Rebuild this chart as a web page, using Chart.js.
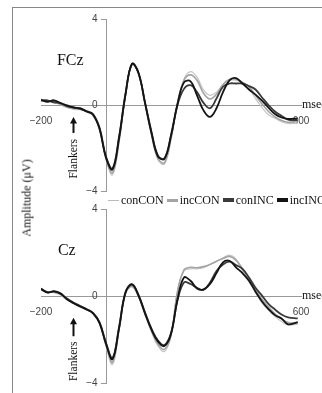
<!DOCTYPE html>
<html>
<head>
<meta charset="utf-8">
<title>FCz / Cz</title>
<script src="https://cdn.jsdelivr.net/npm/chart.js@4.4.1/dist/chart.umd.min.js"></script>
<style>
html,body{margin:0;padding:0;background:#fff;}
body{position:relative;width:322px;height:393px;overflow:hidden;font-family:"Liberation Serif","Times New Roman",serif;color:#111;}
#frame{position:absolute;left:12px;top:7px;width:330px;height:400px;border-left:1px solid #888;border-top:1px solid #888;}
.panel{position:absolute;left:0;width:322px;}
#fczBox{top:0;height:200px;}
#czBox{top:190px;height:203px;}
#ytitle{position:absolute;left:27px;top:198px;transform:translate(-50%,-50%) rotate(-90deg);font-size:12px;white-space:nowrap;color:#111;}
#legend{position:absolute;left:108px;top:192px;height:16px;display:flex;align-items:center;font-size:12px;white-space:nowrap;}
#legend .item{display:flex;align-items:center;margin-right:3px;}
#legend .mark{width:11px;margin-right:2px;}
</style>
</head>
<body>
<div id="frame"></div>
<div class="panel" id="fczBox"><canvas id="fcz"></canvas></div>
<div class="panel" id="czBox"><canvas id="cz"></canvas></div>
<div id="ytitle">Amplitude (μV)</div>
<div id="legend"></div>
<script>
// time axis (msec)
const times = [-200,-180,-160,-140,-120,-100,-80,-60,-40,-20,
  0,20,40,60,80,100,120,140,160,180,
  200,220,240,260,280,300,320,340,360,380,
  400,420,440,460,480,500,520,540,560,590];

const seriesNames = ['conCON','incCON','conINC','incINC'];

// FCz (µV)
const fczConCON = [0.18,0.2,0.1,0.05,-0.08,-0.2,-0.22,-0.32,-0.45,-1.1,
  -2.5,-3.25,-1.75,0.45,1.9,1.45,0.05,-1.4,-2.55,-2.75,
  -1.6,0.1,1.2,1.55,1.3,0.7,0.45,0.6,0.95,1.15,
  1.15,1.05,0.75,0.3,-0.12,-0.45,-0.62,-0.78,-0.86,-0.85];
const fczIncCON = [0.22,0.18,0.15,0.02,-0.1,-0.15,-0.2,-0.3,-0.48,-1.12,
  -2.5,-3.15,-1.7,0.48,1.92,1.48,0.08,-1.38,-2.5,-2.68,
  -1.55,0.08,1.15,1.4,1.15,0.55,0.28,0.5,0.95,1.2,
  1.2,1.05,0.85,0.45,0.05,-0.3,-0.55,-0.72,-0.8,-0.75];
const fczConINC = [0.2,0.22,0.12,0.1,-0.05,-0.1,-0.18,-0.28,-0.42,-1.05,
  -2.4,-2.95,-1.5,0.5,1.9,1.48,0.12,-1.25,-2.35,-2.48,
  -1.45,0.0,0.75,0.92,0.6,0.1,-0.15,0.3,0.85,1.0,
  1.0,1.0,0.88,0.72,0.35,0.0,-0.3,-0.5,-0.68,-0.7];
const fczIncINC = [0.25,0.15,0.22,0.08,-0.02,-0.12,-0.15,-0.3,-0.45,-1.1,
  -2.45,-3.0,-1.55,0.5,1.92,1.5,0.1,-1.3,-2.4,-2.5,
  -1.4,0.05,1.05,1.1,0.45,-0.25,-0.55,-0.15,0.6,1.15,
  1.25,1.0,0.72,0.48,0.2,-0.12,-0.42,-0.58,-0.65,-0.62];

// Cz (µV)
const czConCON = [0.3,0.2,0.15,0.05,-0.18,-0.3,-0.45,-0.6,-0.75,-1.2,
  -2.3,-3.15,-1.6,0.1,0.42,-0.05,-0.85,-1.65,-2.3,-2.55,
  -1.85,0.25,1.15,1.25,1.25,1.3,1.45,1.6,1.75,1.88,
  1.7,1.15,0.65,0.18,-0.32,-0.65,-0.95,-1.17,-1.33,-1.3];
const czIncCON = [0.32,0.18,0.18,0.08,-0.15,-0.32,-0.48,-0.62,-0.78,-1.22,
  -2.25,-3.05,-1.55,0.12,0.45,-0.02,-0.82,-1.6,-2.22,-2.45,
  -1.8,0.2,1.2,1.32,1.3,1.35,1.45,1.6,1.72,1.82,
  1.65,1.25,0.75,0.3,-0.15,-0.5,-0.82,-1.05,-1.22,-1.25];
const czConINC = [0.3,0.18,0.2,0.1,-0.12,-0.3,-0.45,-0.6,-0.78,-1.2,
  -2.15,-2.85,-1.45,0.18,0.55,0.05,-0.75,-1.5,-2.05,-2.25,
  -1.7,-0.2,0.62,0.55,0.38,0.28,0.62,1.15,1.45,1.58,
  1.42,1.25,0.85,0.38,0.02,-0.36,-0.62,-0.85,-0.98,-1.03];
const czIncINC = [0.35,0.15,0.22,0.12,-0.15,-0.33,-0.48,-0.62,-0.8,-1.25,
  -2.2,-2.9,-1.5,0.15,0.52,0.02,-0.8,-1.55,-2.1,-2.3,
  -1.75,-0.15,0.85,0.7,0.35,0.3,0.55,1.05,1.55,1.62,
  1.32,1.05,0.7,0.2,-0.25,-0.6,-0.88,-1.03,-1.3,-1.2];

const yTickValues = [-4, 0, 4];
const xTickValues = [-200, 600];
const flankerTime = -100;

const lineStyles = [
  {color:'#c6c6c6', width:1.2, order:3, mark:1},
  {color:'#a4a4a4', width:1.6, order:2, mark:3},
  {color:'#3a3a3a', width:1.8, order:1, mark:4},
  {color:'#141414', width:1.8, order:0, mark:4}
];

const minus = v => String(v).replace('-', '\u2212');

// panel name, "msec", Flankers arrow
const panelMarks = {
  id:'panelMarks',
  afterDraw(chart, args, opts){
    const {ctx, scales:{x, y}} = chart;
    ctx.save();
    ctx.fillStyle = '#111';
    ctx.textAlign = 'left';
    ctx.textBaseline = 'middle';
    ctx.font = '16px "Liberation Serif"';
    ctx.fillText(opts.name, x.getPixelForValue(opts.nameAt[0]), y.getPixelForValue(opts.nameAt[1]));
    ctx.font = '12px "Liberation Serif"';
    ctx.fillText('msec', x.right + 1, y.getPixelForValue(0));

    const ax = x.getPixelForValue(flankerTime);
    const tip = y.getPixelForValue(opts.arrow[0]);
    const tail = y.getPixelForValue(opts.arrow[1]);
    ctx.strokeStyle = '#111';
    ctx.lineWidth = 2;
    ctx.beginPath(); ctx.moveTo(ax, tail); ctx.lineTo(ax, tip + 5); ctx.stroke();
    ctx.beginPath(); ctx.moveTo(ax, tip); ctx.lineTo(ax - 3.5, tip + 6.5); ctx.lineTo(ax + 3.5, tip + 6.5); ctx.closePath(); ctx.fill();

    ctx.translate(ax, y.getPixelForValue(opts.label));
    ctx.rotate(-Math.PI / 2);
    ctx.textAlign = 'center';
    ctx.font = '11.5px "Liberation Serif"';
    ctx.fillText('Flankers', 0, 0);
    ctx.restore();
  }
};

function makeChart(id, values, marks, pad){
  new Chart(document.getElementById(id), {
    type:'line',
    data:{
      datasets: values.map((v, i) => ({
        label: seriesNames[i],
        data: times.map((t, k) => ({x:t, y:v[k]})),
        borderColor: lineStyles[i].color,
        borderWidth: lineStyles[i].width,
        order: lineStyles[i].order,
        pointRadius: 0,
        tension: 0.4,
        fill: false
      }))
    },
    options:{
      responsive:true,
      maintainAspectRatio:false,
      animation:false,
      devicePixelRatio:1,
      layout:{padding:pad},
      plugins:{legend:{display:false}, tooltip:{enabled:false}, panelMarks:marks},
      scales:{
        x:{
          type:'linear', min:-200, max:600, position:{y:0},
          afterBuildTicks: s => { s.ticks = xTickValues.map(v => ({value:v})); },
          grid:{display:false, tickLength:5},
          border:{display:true, color:'#999'},
          ticks:{font:{family:'Liberation Sans', size:10}, color:'#444', maxRotation:0, padding:5, callback:minus}
        },
        y:{
          type:'linear', min:-4, max:4, position:{x:0},
          afterBuildTicks: s => { s.ticks = yTickValues.map(v => ({value:v})); },
          grid:{drawOnChartArea:false, tickLength:5, color:'#999'},
          border:{display:true, color:'#999'},
          ticks:{font:{family:'Liberation Sans', size:10}, color:'#444', callback: v => minus(v) + '   '}
        }
      }
    },
    plugins:[panelMarks]
  });
}

makeChart('fcz', [fczConCON, fczIncCON, fczConINC, fczIncINC],
  {name:'FCz', nameAt:[-151, 2.05], arrow:[-0.56, -1.3], label:-2.5},
  {left:41, right:21, top:19, bottom:9});
makeChart('cz', [czConCON, czIncCON, czConINC, czIncINC],
  {name:'Cz', nameAt:[-148, 2.07], arrow:[-1.0, -1.85], label:-3.0},
  {left:41, right:21, top:19, bottom:10});

// legend
const legend = document.getElementById('legend');
seriesNames.forEach((name, i) => {
  const item = document.createElement('span');
  item.className = 'item';
  const mark = document.createElement('span');
  mark.className = 'mark';
  mark.style.height = lineStyles[i].mark + 'px';
  mark.style.background = i === 0 ? '#bbb' : lineStyles[i].color;
  item.appendChild(mark);
  item.appendChild(document.createTextNode(name));
  legend.appendChild(item);
});
</script>
</body>
</html>
